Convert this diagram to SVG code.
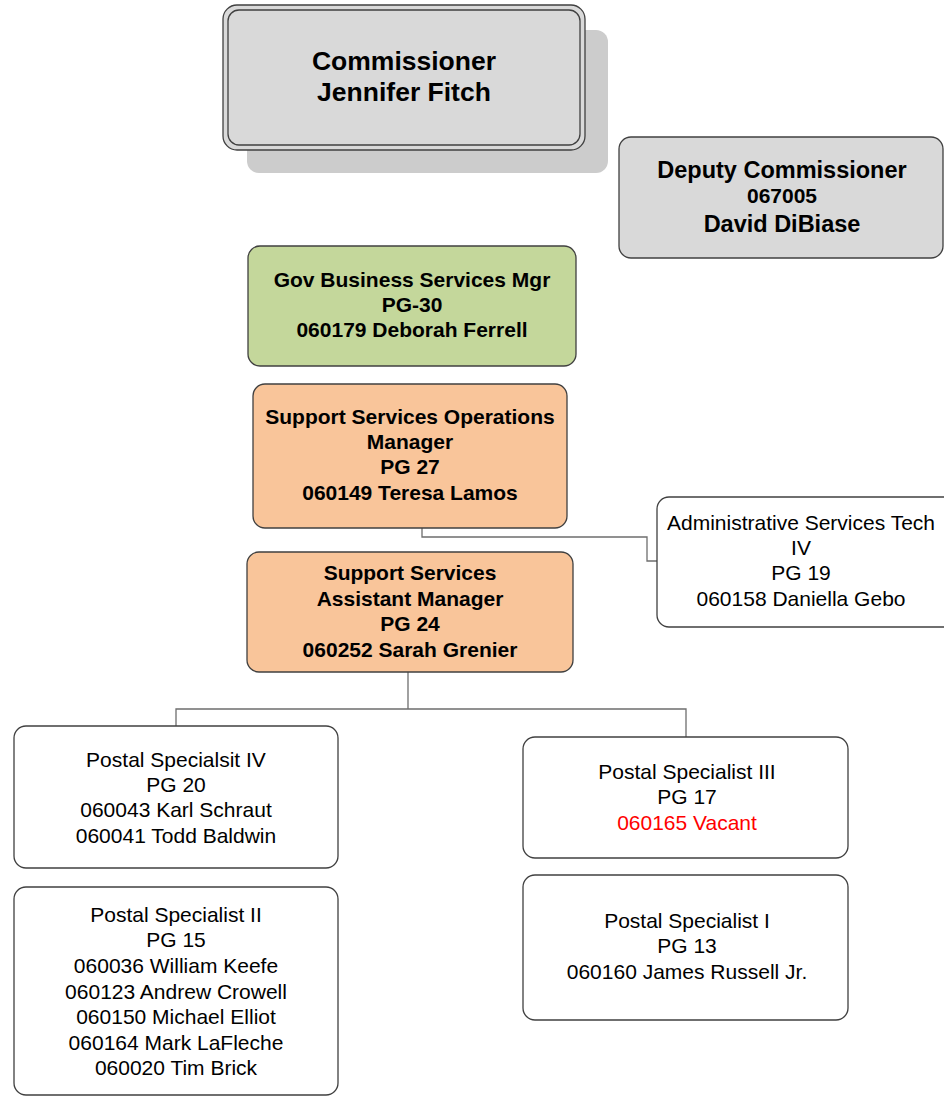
<svg xmlns="http://www.w3.org/2000/svg" width="944" height="1096" viewBox="0 0 944 1096">
  <style>
    .box { stroke: #404040; stroke-width: 1.3; }
    .gray { fill: #d9d9d9; }
    .green { fill: #c4d79b; }
    .peach { fill: #f9c59a; }
    .white { fill: #ffffff; }
    .shadow { fill: #cccccc; }
    .link { fill: none; stroke: #6e6e6e; stroke-width: 1.3; }
    text { font-family: "Liberation Sans", Arial, sans-serif; text-anchor: middle; fill: #000000; }
    .b { font-weight: bold; font-size: 21px; }
    .r { font-size: 21px; }
    .big { font-weight: bold; font-size: 26.5px; }
    .mid { font-weight: bold; font-size: 23.5px; }
    .red { fill: #ff0000; }
  </style>

  <!-- reporting lines -->
  <g id="connectors">
    <polyline class="link" points="422,528 422,537 647,537 647,561 657,561"/>
    <line class="link" x1="408" y1="672" x2="408" y2="709"/>
    <polyline class="link" points="176,726 176,709 686,709 686,737"/>
  </g>

  <g id="commissioner">
    <rect class="shadow" x="247" y="30" width="361" height="143" rx="12"/>
    <rect class="box gray" x="223" y="5" width="362" height="145" rx="14"/>
    <rect class="box gray" x="228" y="10" width="352" height="135" rx="11"/>
    <text class="big" x="404" y="70">Commissioner</text>
    <text class="big" x="404" y="101">Jennifer Fitch</text>
  </g>

  <g id="deputy">
    <rect class="box gray" x="619" y="137" width="324" height="121" rx="12"/>
    <text class="mid" x="782" y="178">Deputy Commissioner</text>
    <text class="b" x="782" y="203">067005</text>
    <text class="mid" x="782" y="232">David DiBiase</text>
  </g>

  <g id="gov-business">
    <rect class="box green" x="248" y="246" width="328" height="120" rx="12"/>
    <text class="b" x="412" y="287">Gov Business Services Mgr</text>
    <text class="b" x="412" y="312">PG-30</text>
    <text class="b" x="412" y="337">060179 Deborah Ferrell</text>
  </g>

  <g id="ops-manager">
    <rect class="box peach" x="253" y="384" width="314" height="144" rx="12"/>
    <text class="b" x="410" y="424">Support Services Operations</text>
    <text class="b" x="410" y="449">Manager</text>
    <text class="b" x="410" y="474">PG 27</text>
    <text class="b" x="410" y="500">060149 Teresa Lamos</text>
  </g>

  <g id="admin-tech">
    <rect class="box white" x="657" y="497" width="300" height="130" rx="12"/>
    <text class="r" x="801" y="530">Administrative Services Tech</text>
    <text class="r" x="801" y="555">IV</text>
    <text class="r" x="801" y="580">PG 19</text>
    <text class="r" x="801" y="606">060158 Daniella Gebo</text>
  </g>

  <g id="asst-manager">
    <rect class="box peach" x="247" y="552" width="326" height="120" rx="12"/>
    <text class="b" x="410" y="580">Support Services</text>
    <text class="b" x="410" y="606">Assistant Manager</text>
    <text class="b" x="410" y="631">PG 24</text>
    <text class="b" x="410" y="657">060252 Sarah Grenier</text>
  </g>

  <g id="postal-iv">
    <rect class="box white" x="14" y="726" width="324" height="142" rx="12"/>
    <text class="r" x="176" y="767">Postal Specialsit IV</text>
    <text class="r" x="176" y="792">PG 20</text>
    <text class="r" x="176" y="817">060043 Karl Schraut</text>
    <text class="r" x="176" y="843">060041 Todd Baldwin</text>
  </g>

  <g id="postal-ii">
    <rect class="box white" x="14" y="887" width="324" height="208" rx="12"/>
    <text class="r" x="176" y="922">Postal Specialist II</text>
    <text class="r" x="176" y="947">PG 15</text>
    <text class="r" x="176" y="973">060036 William Keefe</text>
    <text class="r" x="176" y="999">060123 Andrew Crowell</text>
    <text class="r" x="176" y="1024">060150 Michael Elliot</text>
    <text class="r" x="176" y="1050">060164 Mark LaFleche</text>
    <text class="r" x="176" y="1075">060020 Tim Brick</text>
  </g>

  <g id="postal-iii">
    <rect class="box white" x="523" y="737" width="325" height="121" rx="12"/>
    <text class="r" x="687" y="779">Postal Specialist III</text>
    <text class="r" x="687" y="804">PG 17</text>
    <text class="r red" x="687" y="830">060165 Vacant</text>
  </g>

  <g id="postal-i">
    <rect class="box white" x="523" y="875" width="325" height="145" rx="12"/>
    <text class="r" x="687" y="928">Postal Specialist I</text>
    <text class="r" x="687" y="953">PG 13</text>
    <text class="r" x="687" y="979">060160 James Russell Jr.</text>
  </g>
</svg>
